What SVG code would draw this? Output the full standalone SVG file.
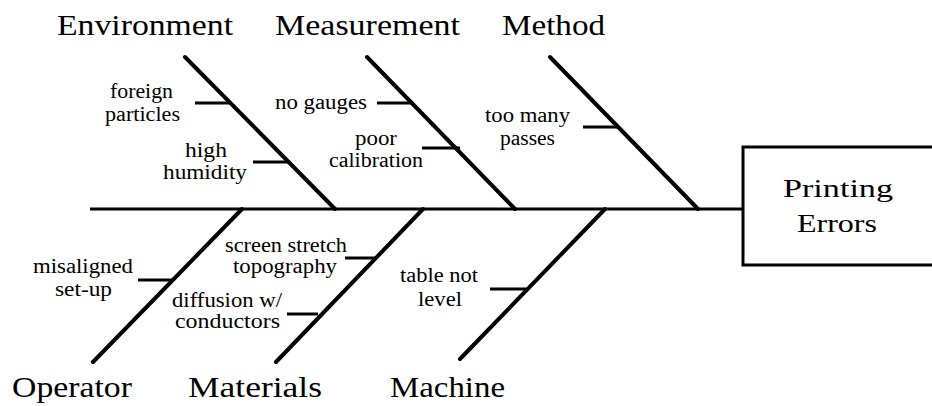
<svg xmlns="http://www.w3.org/2000/svg" width="932" height="406" viewBox="0 0 932 406">
<style>
.bone{stroke:#000;stroke-width:4;fill:none;stroke-linecap:round}
.spine{stroke:#000;stroke-width:3;fill:none}
.twig{stroke:#000;stroke-width:3;fill:none}
.box{stroke:#000;stroke-width:3;fill:#fff}
text{font-family:"Liberation Serif","Times New Roman",serif;fill:#000;text-anchor:middle}
.cat{font-size:30px}
.eff{font-size:26px}
.lbl{font-size:20px}
</style>
<rect x="0" y="0" width="932" height="406" fill="#fff"/>
<g id="connectors">
<line class="spine" x1="90" y1="209" x2="743" y2="209"/>
<line class="bone" x1="185" y1="57" x2="335" y2="209"/>
<line class="bone" x1="367" y1="57" x2="515" y2="209"/>
<line class="bone" x1="550" y1="57" x2="698" y2="209"/>
<line class="bone" x1="242" y1="209" x2="93" y2="362"/>
<line class="bone" x1="423" y1="209" x2="276" y2="362"/>
<line class="bone" x1="605" y1="209" x2="460" y2="359"/>
<line class="twig" x1="195" y1="103" x2="231" y2="103"/>
<line class="twig" x1="253" y1="162" x2="289" y2="162"/>
<line class="twig" x1="377" y1="103" x2="413" y2="103"/>
<line class="twig" x1="422" y1="148" x2="460" y2="148"/>
<line class="twig" x1="583" y1="127" x2="619" y2="127"/>
<line class="twig" x1="138" y1="280" x2="172" y2="280"/>
<line class="twig" x1="345" y1="258" x2="375" y2="258"/>
<line class="twig" x1="287" y1="314" x2="318" y2="314"/>
<line class="twig" x1="490" y1="289" x2="527" y2="289"/>
</g>
<g id="effect">
<rect class="box" x="743" y="147" width="200" height="118"/>
<text class="eff" x="838" y="197" textLength="110" lengthAdjust="spacingAndGlyphs">Printing</text>
<text class="eff" x="837" y="232" textLength="80" lengthAdjust="spacingAndGlyphs">Errors</text>
</g>
<g id="environment">
<text class="cat" x="145" y="35" textLength="176" lengthAdjust="spacingAndGlyphs">Environment</text>
<text class="lbl" x="141.5" y="98" textLength="63" lengthAdjust="spacingAndGlyphs">foreign</text>
<text class="lbl" x="142.5" y="121" textLength="75" lengthAdjust="spacingAndGlyphs">particles</text>
<text class="lbl" x="206" y="157" textLength="42" lengthAdjust="spacingAndGlyphs">high</text>
<text class="lbl" x="205" y="179" textLength="84" lengthAdjust="spacingAndGlyphs">humidity</text>
</g>
<g id="measurement">
<text class="cat" x="367.5" y="35" textLength="185" lengthAdjust="spacingAndGlyphs">Measurement</text>
<text class="lbl" x="321" y="109" textLength="92" lengthAdjust="spacingAndGlyphs">no gauges</text>
<text class="lbl" x="376" y="145" textLength="42" lengthAdjust="spacingAndGlyphs">poor</text>
<text class="lbl" x="376" y="167" textLength="94" lengthAdjust="spacingAndGlyphs">calibration</text>
</g>
<g id="method">
<text class="cat" x="553.5" y="35" textLength="103" lengthAdjust="spacingAndGlyphs">Method</text>
<text class="lbl" x="527.5" y="122" textLength="85" lengthAdjust="spacingAndGlyphs">too many</text>
<text class="lbl" x="527.5" y="145" textLength="55" lengthAdjust="spacingAndGlyphs">passes</text>
</g>
<g id="operator">
<text class="cat" x="72" y="397" textLength="120" lengthAdjust="spacingAndGlyphs">Operator</text>
<text class="lbl" x="83" y="273" textLength="100" lengthAdjust="spacingAndGlyphs">misaligned</text>
<text class="lbl" x="83.5" y="296" textLength="57" lengthAdjust="spacingAndGlyphs">set-up</text>
</g>
<g id="materials">
<text class="cat" x="255" y="397" textLength="134" lengthAdjust="spacingAndGlyphs">Materials</text>
<text class="lbl" x="286" y="252" textLength="122" lengthAdjust="spacingAndGlyphs">screen stretch</text>
<text class="lbl" x="285" y="273" textLength="104" lengthAdjust="spacingAndGlyphs">topography</text>
<text class="lbl" x="227" y="307" textLength="110" lengthAdjust="spacingAndGlyphs">diffusion w/</text>
<text class="lbl" x="227.5" y="328" textLength="105" lengthAdjust="spacingAndGlyphs">conductors</text>
</g>
<g id="machine">
<text class="cat" x="447.5" y="397" textLength="115" lengthAdjust="spacingAndGlyphs">Machine</text>
<text class="lbl" x="439" y="282" textLength="78" lengthAdjust="spacingAndGlyphs">table not</text>
<text class="lbl" x="440" y="306" textLength="44" lengthAdjust="spacingAndGlyphs">level</text>
</g>
</svg>
